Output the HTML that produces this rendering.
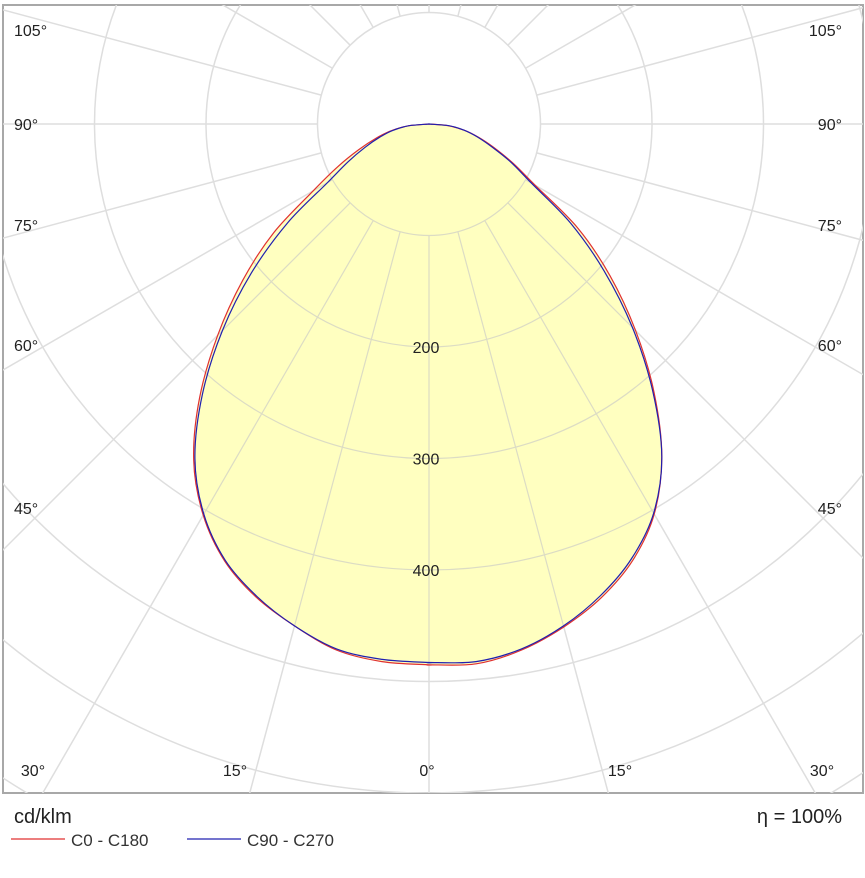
<!DOCTYPE html>
<html><head><meta charset="utf-8">
<style>
html,body{margin:0;padding:0;background:#fff;}
body{width:865px;height:878px;overflow:hidden;font-family:"Liberation Sans",Arial,sans-serif;}
svg{display:block;}
svg text{font-family:"Liberation Sans",Arial,sans-serif;}
</style></head>
<body>
<svg id="chart" width="865" height="878" viewBox="0 0 865 878" xmlns="http://www.w3.org/2000/svg">
<defs><clipPath id="frameClip"><rect x="3" y="5" width="860" height="788"/></clipPath></defs>
<rect x="3" y="5" width="860" height="788" fill="#fff" stroke="#a8a8a8" stroke-width="2"/>
<g id="grid" clip-path="url(#frameClip)"></g>
<g id="series" clip-path="url(#frameClip)"></g>
<g id="labels"></g>
<text x="14" y="823" font-size="20" fill="#222">cd/klm</text>
<text x="842" y="823" font-size="20" fill="#222" text-anchor="end">η = 100%</text>
<line x1="11" y1="839" x2="65" y2="839" stroke="#e03030" stroke-width="1.2"/>
<text x="71" y="846" font-size="17" fill="#333">C0 - C180</text>
<line x1="187" y1="839" x2="241" y2="839" stroke="#2020b0" stroke-width="1.2"/>
<text x="247" y="846" font-size="17" fill="#333">C90 - C270</text>
</svg>
<script>
// data
const gammaAngles = [0,5,10,15,20,25,30,35,40,45,50,55,60,65,70,75,80,85,90];
const c0Values   = [485,486,479,467,452,432,404,364,314,262,212,163,110,83,62,46,32,17,0];
const c180Values = [485,484,479,466,452,433,405,368,320,268,218,170,120,90,67,49,34,18,0];
const c90Values  = [483,484,478,466,450,430,403,364,312,258,205,155,106,81,60,45,32,18,0];
const c270Values = [483,482,478,466,451,432,404,366,316,262,208,155,105,80,61,46,33,18,0];
const ringValues = [100,200,300,400,500,600,700];
const ringLabels = ["","200","300","400","","",""];
const angleTicks = [45,60,75,90,105];
const angleLabelY = [514,351,231,130,36];
const bottomTicks = [-30,-15,0,15,30];
const bottomLabelX = [33,235,427,620,822];

const NS="http://www.w3.org/2000/svg";
const cx=429, cy=124, pxPer=1.115;
function rScale(v){return v*pxPer;}
function pt(angDeg,v,side){const a=angDeg*Math.PI/180;const r=rScale(v);return [cx+side*r*Math.sin(a), cy+r*Math.cos(a)];}
function mk(tag,attrs,parent){const e=document.createElementNS(NS,tag);for(const k in attrs)e.setAttribute(k,attrs[k]);parent.appendChild(e);return e;}

const grid=document.getElementById('grid');
ringValues.forEach(v=>{
  const c=mk('circle',{cx:cx,cy:cy,r:rScale(v),fill:'none',stroke:'#dedede','stroke-width':1.5},grid);
  
  
});
for(let a=0;a<360;a+=15){
  const r0=rScale(ringValues[0]), r1=1400, t=a*Math.PI/180;
  const l=mk('line',{x1:cx+r0*Math.sin(t),y1:cy+r0*Math.cos(t),x2:cx+r1*Math.sin(t),y2:cy+r1*Math.cos(t),stroke:'#dedede','stroke-width':1.5},grid);
  
  
}

const series=document.getElementById('series');
function curve(right,left){
  const pts=[];
  for(let i=gammaAngles.length-1;i>=0;i--)pts.push(pt(gammaAngles[i],left[i],-1));
  for(let i=0;i<gammaAngles.length;i++)pts.push(pt(gammaAngles[i],right[i],1));
  let d='M'+pts[0][0].toFixed(1)+','+pts[0][1].toFixed(1);
  for(let i=0;i<pts.length-1;i++){
    const p0=pts[Math.max(0,i-1)],p1=pts[i],p2=pts[i+1],p3=pts[Math.min(pts.length-1,i+2)];
    const c1=[p1[0]+(p2[0]-p0[0])/6,p1[1]+(p2[1]-p0[1])/6];
    const c2=[p2[0]-(p3[0]-p1[0])/6,p2[1]-(p3[1]-p1[1])/6];
    d+=' C'+c1.map(n=>n.toFixed(1))+' '+c2.map(n=>n.toFixed(1))+' '+p2.map(n=>n.toFixed(1));
  }
  return d+' Z';
}
const dRed=curve(c0Values,c180Values), dBlue=curve(c90Values,c270Values);
const fill=mk('path',{d:dRed,fill:'#ffffc0',stroke:'none'},series);


const fill2=mk('path',{d:dBlue,fill:'#ffffc0',stroke:'none'},series);


ringValues.forEach(v=>{
  const c=mk('circle',{cx:cx,cy:cy,r:rScale(v),fill:'none',stroke:'#dcdcc4','stroke-width':1.2},series);
  
  
});
for(let a=0;a<360;a+=15){
  const r0=rScale(ringValues[0]), r1=1400, t=a*Math.PI/180;
  const l=mk('line',{x1:cx+r0*Math.sin(t),y1:cy+r0*Math.cos(t),x2:cx+r1*Math.sin(t),y2:cy+r1*Math.cos(t),stroke:'#dcdcc4','stroke-width':1.2},series);
  
  
}
// mask overlay outside fill by redrawing white-ish grid outside: simpler — clip overlay to fill
const clip=mk('clipPath',{id:'fillClip'},document.querySelector('defs'));
mk('path',{d:dRed},clip);
Array.from(series.querySelectorAll('circle,line')).forEach(e=>e.setAttribute('clip-path','url(#fillClip)'));
const red=mk('path',{d:dRed,fill:'none',stroke:'#e03030','stroke-width':1.2},series);


const blue=mk('path',{d:dBlue,fill:'none',stroke:'#2020b0','stroke-width':1.2},series);



const labels=document.getElementById('labels');
ringValues.forEach((v,i)=>{
  if(!ringLabels[i])return;
  const t=mk('text',{x:cx-3,y:cy+rScale(v)+6,'font-size':16,fill:'#222','text-anchor':'middle'},labels);
  t.textContent=ringLabels[i];
  
  
});
angleTicks.forEach((a,i)=>{
  const y=angleLabelY[i];
  [['left',14,'start'],['right',842,'end']].forEach(s=>{
    const e=mk('text',{x:s[1],y:y,'font-size':16,fill:'#222','text-anchor':s[2]},labels);
    e.textContent=a+'°';
    
    
  });
});
bottomTicks.forEach((a,i)=>{
  const e=mk('text',{x:bottomLabelX[i],y:776,'font-size':16,fill:'#222','text-anchor':'middle'},labels);
  e.textContent=Math.abs(a)+'°';
  
  
});
</script>
</body></html>
